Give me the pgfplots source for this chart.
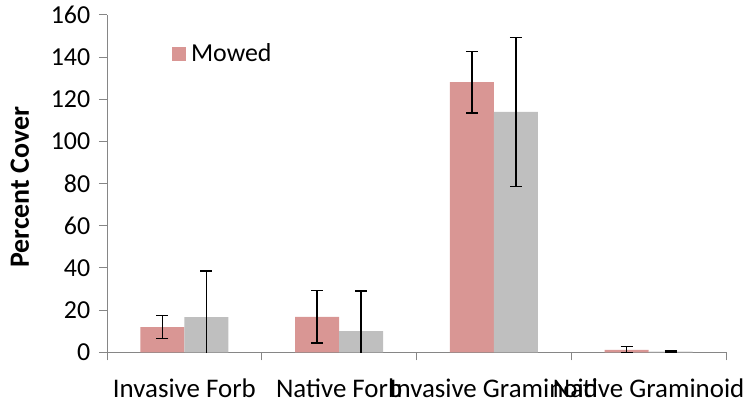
\documentclass[border=0pt]{standalone}
\usepackage{pgfplots}
\pgfplotsset{compat=1.18}
\usepackage{fontspec}
\setmainfont{Carlito}
\definecolor{mowed}{RGB}{217,150,148}
\definecolor{unmowed}{RGB}{191,191,191}
\definecolor{axgray}{RGB}{134,134,134}
\begin{document}
\begin{tikzpicture}
\fontsize{26}{30}\selectfont
\begin{axis}[
  at={(107bp,51.7bp)}, anchor=south west,
  scale only axis, width=619bp, height=337.3bp,
  xmin=-0.5, xmax=3.5, ymin=0, ymax=160,
  axis x line*=bottom, axis y line*=left,
  axis line style={axgray, line width=1pt, -},
  ytick={0,20,...,160},
  xtick={-0.5,0.5,1.5,2.5,3.5},
  x tick label as interval,
  xticklabels={Invasive Forb,Native Forb,Invasive Graminoid,Native Graminoid},
  tick style={axgray, line width=1pt},
  major tick length=8bp,
  tick align=outside,
  /pgf/number format/assume math mode=true,
  tick label style={font=\fontsize{26}{30}\selectfont},
  xticklabel style={font=\fontsize{27}{30}\selectfont, anchor=base, inner sep=0pt, yshift=-37.5bp},
  ylabel={Percent Cover},
  ylabel style={at={(axis description cs:-0.141,0.489)}, anchor=center, font=\fontsize{28}{32}\selectfont\bfseries},
  ybar, bar width=0.284,
  legend style={draw=none, fill=none, at={(0.1,0.884)}, anchor=west, font=\fontsize{26}{30}\selectfont, /tikz/column sep=3bp},
  legend image code/.code={\fill[#1] (0bp,-7bp) rectangle (14bp,7bp);},
  clip=true,
]
\addplot[fill=mowed, draw=none, bar shift=-0.142,
  error bars/.cd, y dir=both, y explicit,
  error bar style={black, line width=1.6pt},
  error mark options={black, rotate=90, mark size=6bp, line width=1.6pt}]
  coordinates {
  (0,12.0) +- (0,5.4)
  (1,16.8) +- (0,12.5)
  (2,128.1) +- (0,14.5)
  (3,1.2) +- (0,1.5)
  };
\addplot[fill=unmowed, draw=none, bar shift=0.142,
  error bars/.cd, y dir=both, y explicit,
  error bar style={black, line width=1.6pt},
  error mark options={black, rotate=90, mark size=6bp, line width=1.6pt}]
  coordinates {
  (0,16.7) +- (0,22.0)
  (1,10.1) +- (0,19.0)
  (2,114.0) +- (0,35.4)
  (3,0.3) +- (0,0.4)
  };
\legend{Mowed}
\end{axis}
\pgfresetboundingbox
\useasboundingbox (0,0) rectangle (745bp,404bp);
\end{tikzpicture}
\end{document}
